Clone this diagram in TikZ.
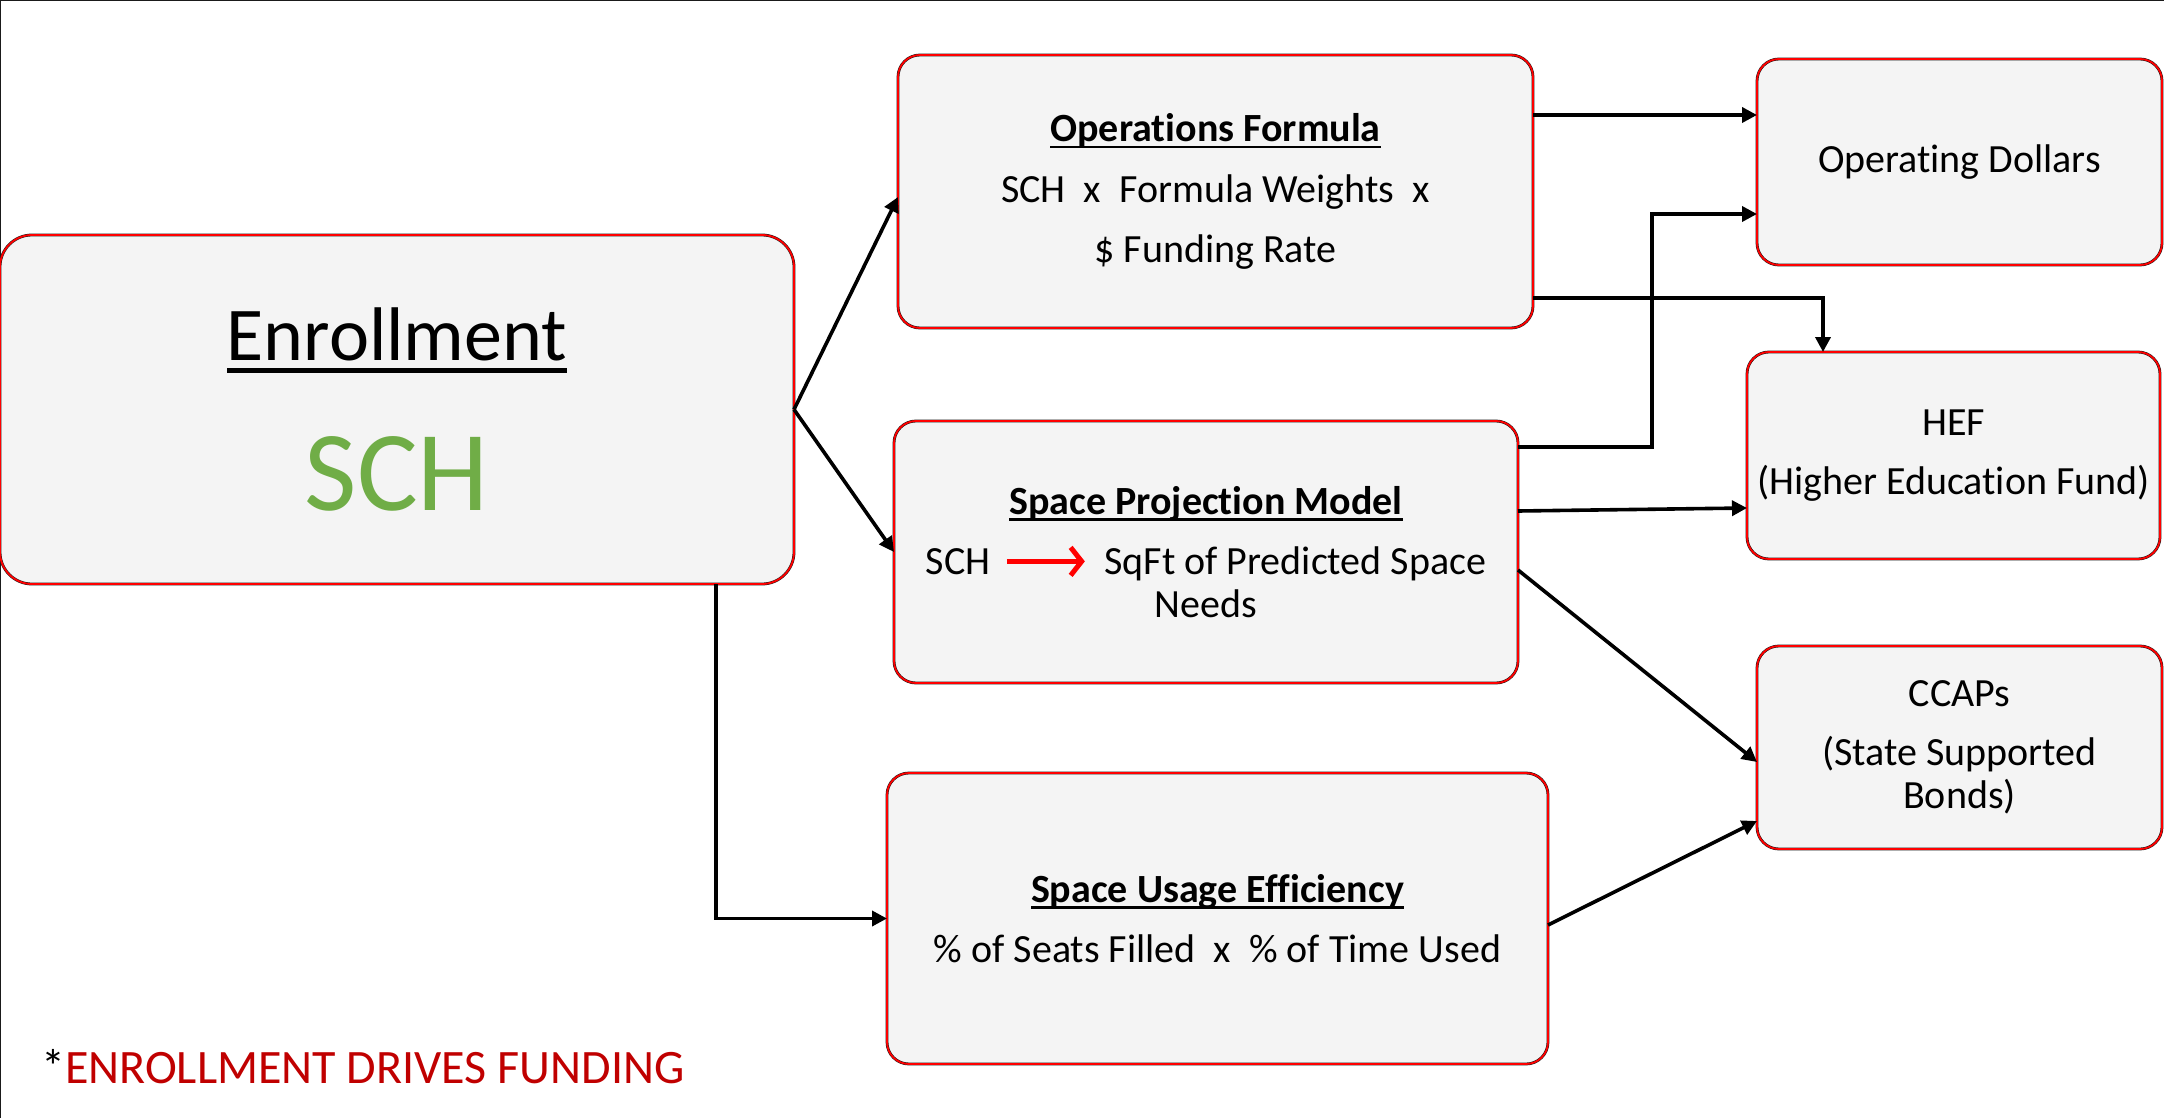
\documentclass[tikz,border=0pt]{standalone}
\usepackage{fontspec}
\setmainfont{Carlito}[Ligatures=NoCommon]
\usetikzlibrary{arrows.meta,calc}
\definecolor{boxfill}{HTML}{F4F4F4}
\definecolor{schgreen}{HTML}{70AD47}
\definecolor{noteRed}{HTML}{C00000}
\definecolor{frameGray}{HTML}{1A1A1A}
\newcommand{\myul}[1]{\setbox0=\hbox{#1}\rlap{\rule[-0.17em]{\wd0}{0.07em}}\box0}
\begin{document}
\begin{tikzpicture}[x=1pt,y=-1pt,
  box/.style={draw=frameGray, double=red, double distance=1.8pt, line width=0.5pt,
    fill=boxfill, rounded corners=22pt, inner sep=0pt, outer sep=0pt, align=center,
    font=\fontsize{40}{43}\selectfont},
  conn/.style={line width=3.6pt, -{Triangle[length=15pt,width=15pt]}},
  frameline/.style={draw=frameGray, line width=2pt}]
\useasboundingbox (0,0) rectangle (2164,1118);
\fill[white] (0,0) rectangle (2164,1118);
\draw[frameline] (0,0) -- (2164,0);
\draw[frameline] (0,0) -- (0,1118);

% boxes
\node[box, rounded corners=32pt, minimum width=794pt, minimum height=349pt] (enr) at (397,409.5)
  {{\fontsize{76}{80}\selectfont\myul{Enrollment}}\\[62pt]{\fontsize{114}{120}\selectfont\color{schgreen}SCH}};
\node[box, minimum width=635pt, minimum height=273pt] (ops) at (1215.5,191.5)
  {\myul{\textbf{Operations Formula}}\\[18pt]SCH\ \ x\ \ Formula Weights\ \ x\\[17pt]\$ Funding Rate};
\node[box, minimum width=624pt, minimum height=262pt] (spm) at (1206,552)
  {\myul{\textbf{Space Projection Model}}\\[17pt]SCH\hspace{14pt}\tikz[baseline={(0pt,-13pt)}]\draw[red, line width=5pt, -{Straight Barb[length=11pt,width=28pt,line width=5pt]}] (0pt,0pt) -- (78pt,0pt);\hspace{17pt}SqFt of Predicted Space\\Needs};
\node[box, minimum width=661pt, minimum height=291pt] (sue) at (1217.5,918.5)
  {\myul{\textbf{Space Usage Efficiency}}\\[17pt]\% of Seats Filled\ \ x\ \ \% of Time Used};
\node[box, minimum width=405pt, minimum height=206pt] (od) at (1959.5,162)
  {Operating Dollars};
\node[box, minimum width=413pt, minimum height=207pt] (hef) at (1953.5,455.5)
  {HEF\\[16pt](Higher Education Fund)};
\node[box, minimum width=405pt, minimum height=203pt] (ccap) at (1959.5,747.5)
  {CCAPs\\[16pt](State Supported\\Bonds)};

% footnote
\node[anchor=base west, inner sep=0pt] (note) at (41,1083)
  {\fontsize{48}{50}\selectfont *\textcolor{noteRed}{ENROLLMENT DRIVES FUNDING}};

% connectors
\draw[conn] (enr.east) -- (ops.west |- 0,197);
\draw[conn] (enr.east) -- (spm.west);
\draw[conn] (716,0 |- enr.south) |- (sue.west);
\draw[conn] (ops.east |- 0,115) -- (od.west |- 0,115);
\draw[conn] (ops.east |- 0,298) -| (hef.north -| 1823,0);
\draw[conn] (spm.east |- 0,447) -- (1652,447) |- (od.west |- 0,214);
\draw[conn] (spm.east |- 0,511) -- (hef.west |- 0,508);
\draw[conn] (spm.east |- 0,570) -- (ccap.west |- 0,762);
\draw[conn] (sue.east |- 0,925) -- (ccap.west |- 0,821);
\end{tikzpicture}
\end{document}
